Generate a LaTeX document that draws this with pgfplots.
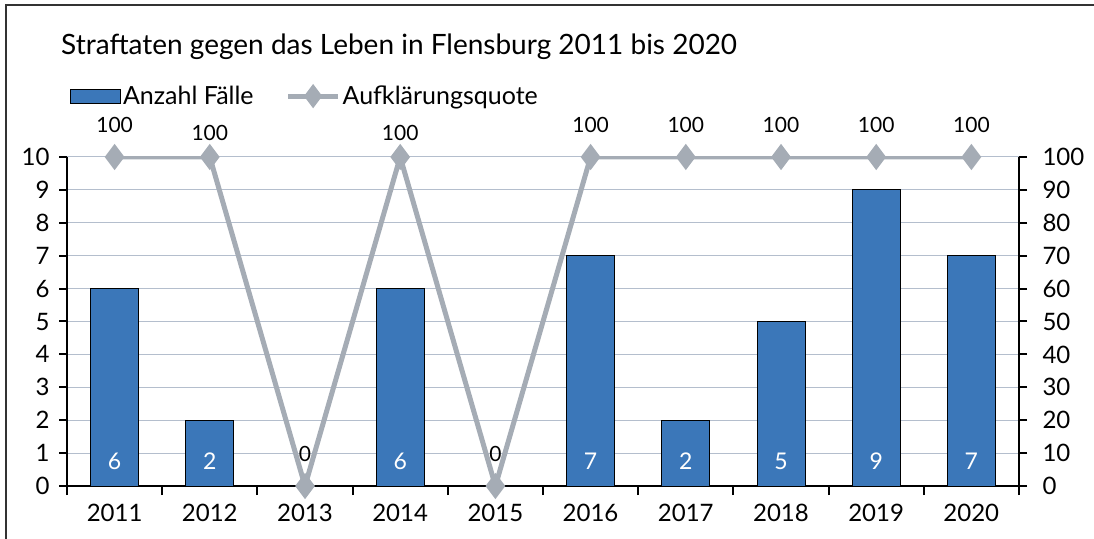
\documentclass[border=0pt]{standalone}
\usepackage{pgfplots}
\pgfplotsset{compat=1.18}
\usepackage{fontspec}
\setmainfont{Lato}
\definecolor{barblue}{RGB}{59,119,185}
\definecolor{linegray}{RGB}{165,172,181}
\definecolor{gridcol}{RGB}{180,190,205}
\begin{document}
\begin{tikzpicture}
\useasboundingbox (0pt,0pt) rectangle (1094pt,538pt);
\draw[line width=1.5pt, black!80] (6pt,-2pt) -- (6pt,533pt) -- (1100pt,533pt);
\node[anchor=west, inner sep=0pt, font=\fontsize{28}{32}\selectfont] at (61pt,491pt) {Straftaten gegen das Leben in Flensburg 2011 bis 2020};
\begin{axis}[
  at={(67pt,52pt)}, anchor=south west,
  scale only axis, width=952pt, height=329pt,
  xmin=2010.5, xmax=2020.5, ymin=0, ymax=10,
  axis x line*=bottom, axis y line*=left,
  axis line style={line width=2pt, black, -},
  xtick={2011,...,2020},
  minor xtick={2010.5,2011.5,...,2020.5},
  major x tick style={draw=none},
  minor tick length=9pt, major tick length=8pt,
  tick align=outside,
  tick style={line width=2pt, black},
  ytick={0,...,10},
  ymajorgrids, grid style={gridcol, line width=1pt},
  xticklabel style={/pgf/number format/1000 sep={}, font=\fontsize{24}{28}\selectfont, yshift=-7pt},
  yticklabel style={font=\fontsize{24}{28}\selectfont, xshift=-6pt},
  /pgf/number format/assume math mode=true,
  legend style={at={(0.003,1.185)}, anchor=west, draw=none, fill=none,
    legend columns=2, font=\fontsize{25}{29}\selectfont, inner sep=0pt,
    nodes={inner sep=2pt},
    /tikz/every even column/.append style={column sep=30pt}},
]
\addplot[ybar, bar width=48pt, fill=barblue, draw=black, line width=1pt,
  area legend,
  legend image code/.code={\draw[fill=barblue, draw=black, line width=1pt] (0pt,-7pt) rectangle (50pt,7pt);}]
  coordinates {(2011,6) (2012,2) (2013,0) (2014,6) (2015,0) (2016,7) (2017,2) (2018,5) (2019,9) (2020,7)};
\addlegendentry{Anzahl Fälle}
\addlegendimage{linegray, line width=5pt, mark=diamond*, mark size=9pt,
  legend image code/.code={\draw[linegray, line width=5pt] (0pt,0pt) -- (50pt,0pt); \fill[linegray] (25pt,8pt) -- (31pt,0pt) -- (25pt,-8pt) -- (19pt,0pt) -- cycle;}}
\addlegendentry{Aufklärungsquote}
\addplot[draw=none, mark=none, forget plot, point meta=explicit symbolic,
  nodes near coords, every node near coord/.append style={anchor=center, text=white, font=\fontsize{23}{27}\selectfont}]
  coordinates {(2011,0.76)[6] (2012,0.76)[2] (2014,0.76)[6] (2016,0.76)[7] (2017,0.76)[2] (2018,0.76)[5] (2019,0.76)[9] (2020,0.76)[7]};
\end{axis}
\begin{axis}[
  at={(67pt,52pt)}, anchor=south west,
  scale only axis, width=952pt, height=329pt,
  xmin=2010.5, xmax=2020.5, ymin=0, ymax=100,
  axis x line=none, axis y line*=right,
  axis line style={line width=2pt, black, -},
  ytick={0,10,...,100},
  major tick length=8pt, tick align=outside,
  tick style={line width=2pt, black},
  yticklabel style={font=\fontsize{24}{28}\selectfont, xshift=12pt},
  /pgf/number format/assume math mode=true,
]
\addplot[linegray, line width=5pt, mark=diamond*, mark size=9pt,
  point meta=explicit symbolic, nodes near coords,
  every node near coord/.append style={anchor=center, yshift=32pt, text=black, font=\fontsize{21}{25}\selectfont},
  coordinate style/.condition={rawx==2012 || rawx==2014}{yshift=-8pt}]
  coordinates {(2011,100)[100] (2012,100)[100] (2013,0)[0] (2014,100)[100] (2015,0)[0] (2016,100)[100] (2017,100)[100] (2018,100)[100] (2019,100)[100] (2020,100)[100]};
\end{axis}
\end{tikzpicture}
\end{document}
